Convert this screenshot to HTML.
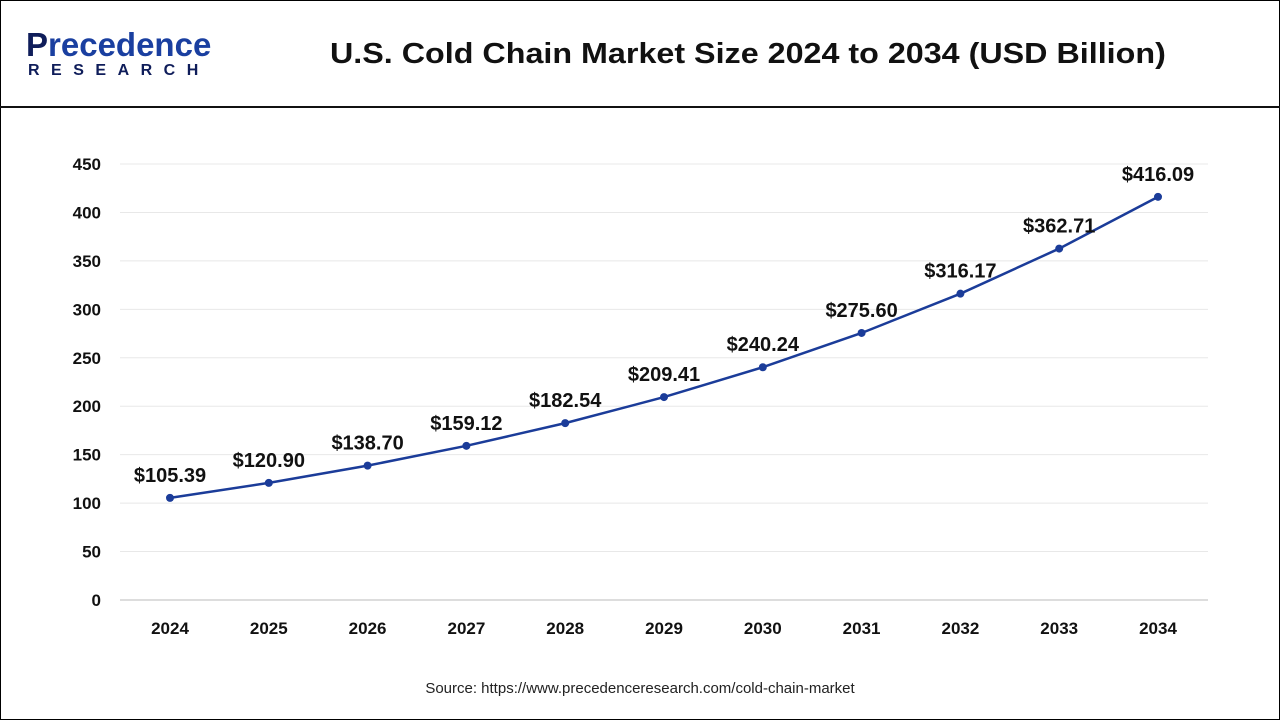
<!DOCTYPE html>
<html><head><meta charset="utf-8"><style>
html,body{margin:0;padding:0;background:#fff;}
body{width:1280px;height:720px;position:relative;overflow:hidden;font-family:"Liberation Sans",Arial,sans-serif;}
.frame{position:absolute;left:0;top:0;width:1278px;height:718px;border:1px solid #000;}
.hdr{position:absolute;left:0;top:106px;width:1280px;height:2px;background:#111;}
.title{position:absolute;left:330px;top:38px;font-size:29px;font-weight:bold;color:#111;transform:scaleX(1.113);transform-origin:left top;white-space:nowrap;}
.logo1{position:absolute;left:26px;top:26px;font-size:33px;color:#1a3fa0;font-weight:bold;}
.logo1 b{color:#0f1d5a;}
.logo2{position:absolute;left:28px;top:62px;font-size:16px;font-weight:bold;color:#0f1d5a;letter-spacing:11.5px;}
.src{position:absolute;left:0;width:1280px;top:680px;text-align:center;font-size:15px;color:#222;}
</style></head><body>
<div class="frame"></div>
<div class="logo1"><b>P</b>recedence</div>
<div class="logo2">RESEARCH</div>
<div class="title">U.S. Cold Chain Market Size 2024 to 2034 (USD Billion)</div>
<div class="hdr"></div>
<svg id="chart" width="1280" height="720" style="position:absolute;left:0;top:0"></svg>
<div class="src">Source: https://www.precedenceresearch.com/cold-chain-market</div>
<script>
const categories=["2024","2025","2026","2027","2028","2029","2030","2031","2032","2033","2034"];
const values=[105.39,120.90,138.70,159.12,182.54,209.41,240.24,275.60,316.17,362.71,416.09];
const yTicks=[0,50,100,150,200,250,300,350,400,450];
const NS="http://www.w3.org/2000/svg";
const svg=document.getElementById('chart');
const x0=120,x1=1208,y0=600,y450=164;
const xs=i=>170+i*(1158-170)/(categories.length-1);
const ys=v=>y0-(v/450)*(y0-y450);
function mk(t,a){const e=document.createElementNS(NS,t);for(const k in a)e.setAttribute(k,a[k]);svg.appendChild(e);return e;}
yTicks.forEach(t=>{
  const l=mk('line',{x1:x0,x2:x1,y1:ys(t),y2:ys(t),stroke:t===0?'#bbb':'#e8e8e8','stroke-width':1});
  
  
  const tx=mk('text',{x:101,y:ys(t)+6,'text-anchor':'end','font-size':17,'font-weight':'bold',fill:'#111','font-family':'Liberation Sans, sans-serif'});
  tx.textContent=t;
  
  
});
categories.forEach((c,i)=>{
  const tx=mk('text',{x:xs(i),y:634,'text-anchor':'middle','font-size':17,'font-weight':'bold',fill:'#111','font-family':'Liberation Sans, sans-serif'});
  tx.textContent=c;
  
  
});
const p=mk('polyline',{points:values.map((v,i)=>xs(i)+','+ys(v)).join(' '),fill:'none',stroke:'#1b3c99','stroke-width':2.5});


values.forEach((v,i)=>{
  const c=mk('circle',{cx:xs(i),cy:ys(v),r:4,fill:'#1b3c99'});
  
  
  const t=mk('text',{x:xs(i),y:ys(v)-16,'text-anchor':'middle','font-size':20,'font-weight':'bold',fill:'#111','font-family':'Liberation Sans, sans-serif'});
  t.textContent='$'+v.toFixed(2);
  
  
});
</script>
</body></html>
